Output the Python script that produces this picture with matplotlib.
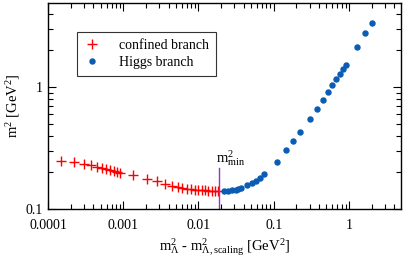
import matplotlib
matplotlib.use("Agg")
import matplotlib.pyplot as plt
from matplotlib.ticker import FixedLocator, FixedFormatter, LogLocator, NullFormatter

plt.rcParams["font.family"] = ["Liberation Serif", "DejaVu Serif"]
plt.rcParams["mathtext.fontset"] = "custom"
plt.rcParams["mathtext.rm"] = "Liberation Serif"
plt.rcParams["mathtext.it"] = "Liberation Serif:italic"

# ============================
#  Data
# ============================
confined_x = [1.49e-4, 2.22e-4, 3.01e-4, 3.69e-4, 4.48e-4, 5.22e-4, 5.93e-4,
              6.73e-4, 7.49e-4, 8.26e-4, 9.19e-4, 1.33e-3, 2.07e-3, 2.84e-3,
              3.59e-3, 4.40e-3, 5.29e-3, 6.13e-3, 7.08e-3, 8.02e-3, 8.98e-3,
              9.94e-3, 1.103e-2, 1.22e-2, 1.35e-2, 1.50e-2, 1.66e-2, 1.82e-2]
confined_y = [0.249, 0.243, 0.233, 0.228, 0.221, 0.217, 0.213, 0.209, 0.205,
              0.202, 0.199, 0.189, 0.1755, 0.168, 0.1606, 0.1546, 0.1509,
              0.1481, 0.1462, 0.1445, 0.1434, 0.1426, 0.1421, 0.1418, 0.1413,
              0.1413, 0.1413, 0.1413]

higgs_x = [0.0220, 0.0249, 0.0281, 0.0312, 0.0338, 0.0367, 0.0437, 0.0509,
           0.0576, 0.0651, 0.0749, 0.1105, 0.1468, 0.1803, 0.2253, 0.300,
           0.373, 0.451, 0.529, 0.600, 0.676, 0.752, 0.827, 0.907, 1.277,
           1.647, 2.04]
higgs_y = [0.1394, 0.1404, 0.1421, 0.1439, 0.1458, 0.1486, 0.1561, 0.1622,
           0.1706, 0.1781, 0.1936, 0.2442, 0.3045, 0.3629, 0.4245, 0.5445,
           0.6663, 0.7911, 0.9118, 1.0346, 1.1585, 1.2853, 1.4049, 1.532,
           2.151, 2.771, 3.384]

m2_min = 0.019
m2_min_line_top = 0.217

x_ticks = [1e-4, 1e-3, 1e-2, 1e-1, 1]
x_tick_labels = ["0.0001", "0.001", "0.01", "0.1", "1"]
y_ticks = [0.1, 1]
y_tick_labels = ["0.1", "1"]

# ============================
#  Plot
# ============================
fig = plt.figure(figsize=(4.03, 2.57), dpi=100)
ax = fig.add_axes([0.119, 0.187, 0.876, 0.801])

ax.plot(confined_x, confined_y, linestyle="none", marker="+", markersize=7.5,
        markeredgewidth=1.0, color="#ff0000", label="confined branch")
ax.plot(higgs_x, higgs_y, linestyle="none", marker="o", markersize=3.6,
        color="#0a5cb4", label="Higgs branch")

# m^2_min marker line + label
ax.plot([m2_min, m2_min], [0.1, m2_min_line_top], color="#9b30c8", lw=1.0)
ax.text(0.0171, 0.242, r"$\mathrm{m}^{2}_{\mathrm{min}}$", fontsize=10.5,
        ha="left", va="baseline")

ax.set_xscale("log")
ax.set_yscale("log")
ax.set_xlim(1e-4, 4.9)
ax.set_ylim(0.1, 4.9)

ax.xaxis.set_major_locator(FixedLocator(x_ticks))
ax.xaxis.set_major_formatter(FixedFormatter(x_tick_labels))
ax.yaxis.set_major_locator(FixedLocator(y_ticks))
ax.yaxis.set_major_formatter(FixedFormatter(y_tick_labels))
ax.xaxis.set_minor_locator(LogLocator(base=10, subs=range(2, 10)))
ax.yaxis.set_minor_locator(LogLocator(base=10, subs=range(2, 10)))
ax.xaxis.set_minor_formatter(NullFormatter())
ax.yaxis.set_minor_formatter(NullFormatter())

ax.tick_params(which="both", direction="in", top=True, right=True,
               labelsize=10, width=0.8)
ax.tick_params(which="major", length=6)
ax.tick_params(which="minor", length=3.5)
ax.tick_params(axis="x", which="major", pad=7)
ax.tick_params(axis="y", which="major", pad=4)
for s in ax.spines.values():
    s.set_linewidth(1.0)

ax.set_xlabel(r"$\mathrm{m}^{2}_{\Lambda}$ - $\mathrm{m}^{2}_{\Lambda,\mathrm{scaling}}$ [GeV$^{2}$]",
              fontsize=10.5, labelpad=3)
ax.set_ylabel(r"$\mathrm{m}^{2}$ [GeV$^{2}$]", fontsize=10.5, labelpad=2)

leg = ax.legend(loc="upper left", bbox_to_anchor=(0.082, 0.861),
                borderaxespad=0, fontsize=10, fancybox=False,
                edgecolor="#333333", framealpha=1, handlelength=1.2,
                handletextpad=1.3, borderpad=0.5, labelspacing=0.3)
leg.get_frame().set_linewidth(0.8)

fig.savefig("out.png", dpi=100)
